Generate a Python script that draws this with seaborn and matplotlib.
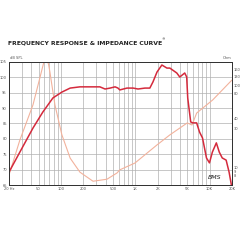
import numpy as np
import pandas as pd
import matplotlib
matplotlib.use("Agg")
import matplotlib.pyplot as plt
import seaborn as sns
from matplotlib.ticker import FixedLocator, NullLocator, NullFormatter

# --- data ---
spl_freq = [20, 28, 42, 57, 78, 103, 133, 180, 246, 334, 392, 458, 535, 585, 620, 772, 936,
            1090, 1350, 1570, 1730, 1960, 2280, 2665, 2920, 3620, 3970, 4630, 4920, 5080,
            5570, 5920, 6690, 7330, 8030, 9080, 9960, 10900, 12330, 13500, 14800, 16700,
            18300, 20000]
spl_db = [69.2, 75.7, 83.5, 88.7, 93.3, 95.2, 96.5, 96.9, 96.9, 96.9, 96.2, 96.5, 96.9, 96.5,
          95.9, 96.5, 96.5, 96.2, 96.5, 96.5, 98.5, 101.7, 104.0, 103.0, 103.0, 101.4, 100.1,
          101.4, 100.1, 93.3, 85.5, 85.2, 85.2, 82.2, 80.3, 73.8, 72.2, 75.7, 78.7, 75.7,
          73.8, 73.1, 69.2, 64.0]

imp_freq = [20, 28, 42, 52, 58, 63, 68, 71, 83, 103, 133, 180, 270, 416, 568, 620, 990, 1960,
            2920, 5000, 5800, 6700, 11000, 20000]
imp_ohm = [8.2, 21.9, 58.6, 125, 185, 215, 185, 148, 58.6, 25.3, 13.2, 8.9, 6.9, 7.3, 8.7,
           9.5, 11.5, 19.1, 25.3, 35.4, 33.4, 46.7, 67.4, 118]

x_ticks = [20, 50, 100, 200, 500, 1000, 2000, 5000, 10000, 20000]
x_labels = ["20 Hz", "50", "100", "200", "500", "1K", "2K", "5K", "10K", "20K"]
db_ticks = [65, 70, 75, 80, 85, 90, 95, 100, 105]
ohm_ticks = [8, 9, 10, 30, 40, 80, 100, 130, 160]

sns.set_theme(style="white")
plt.rcParams['font.family'] = ['DejaVu Sans']

fig = plt.figure(figsize=(2.4, 2.4), dpi=100)
ax = fig.add_axes([0.0375, 0.229, 0.929, 0.513])
ax2 = ax.twinx()

spl = pd.DataFrame({"f": spl_freq, "db": spl_db})
imp = pd.DataFrame({"f": imp_freq, "ohm": imp_ohm})

sns.lineplot(data=imp, x="f", y="ohm", ax=ax2, color="#f2b29c", lw=0.8, estimator=None)
ax2.set_xscale("log")
ax2.set_yscale("log")
ax2.set_ylim(6.2, 196)
sns.lineplot(data=spl, x="f", y="db", ax=ax, color="#d42a3c", lw=1.1, estimator=None)
ax.set_xscale("log")
ax.set_xlim(20, 20000)
ax.set_ylim(65, 105)
ax.set_zorder(ax2.get_zorder() + 1)
ax.patch.set_visible(False)

# grid
minor = []
for dec in [10, 100, 1000, 10000]:
    for m in range(1, 10):
        v = dec * m
        if 20 <= v <= 20000:
            minor.append(v)
for v in minor:
    ax2.axvline(v, color="#b0b0b0", lw=0.5, zorder=0)
for v in db_ticks:
    ax2.axhline(10 ** (np.log10(6.2) + (v - 65) / 40 * np.log10(196 / 6.2)), color="#b0b0b0",
                lw=0.5, zorder=0)

ax.xaxis.set_major_locator(FixedLocator(x_ticks))
ax.xaxis.set_minor_locator(NullLocator())
ax.xaxis.set_minor_formatter(NullFormatter())
ax.set_xticklabels(x_labels)
ax.set_yticks(db_ticks)
ax.set_yticklabels([str(v) for v in db_ticks])
ax2.yaxis.set_major_locator(FixedLocator(ohm_ticks))
ax2.yaxis.set_minor_locator(NullLocator())
ax2.yaxis.set_minor_formatter(NullFormatter())
ax2.set_yticklabels([str(v) for v in ohm_ticks])
for a in (ax, ax2):
    a.tick_params(axis="both", labelsize=2.6, colors="#555555", length=0, pad=1.5)
    a.set_xlabel("")
    a.set_ylabel("")
    for s in a.spines.values():
        s.set_color("#333333")
        s.set_linewidth(0.7)

fig.text(0.04, 0.748, "dB SPL", fontsize=2.6, color="#555555", ha="left", va="bottom")
fig.text(0.965, 0.748, "Ohm", fontsize=2.6, color="#555555", ha="right", va="bottom")
fig.text(0.033, 0.82, "FREQUENCY RESPONSE & IMPEDANCE CURVE", fontsize=4.4,
         fontweight="bold", color="#222222", ha="left", va="center")
fig.text(0.675, 0.835, "\u00ae", fontsize=2.5, color="#222222", ha="left", va="center")
ax.text(0.955, 0.04, "BMS", transform=ax.transAxes, fontsize=4.5, style="italic",
        color="#222222", ha="right", va="bottom")

fig.savefig("out.png", dpi=100, facecolor="white")
